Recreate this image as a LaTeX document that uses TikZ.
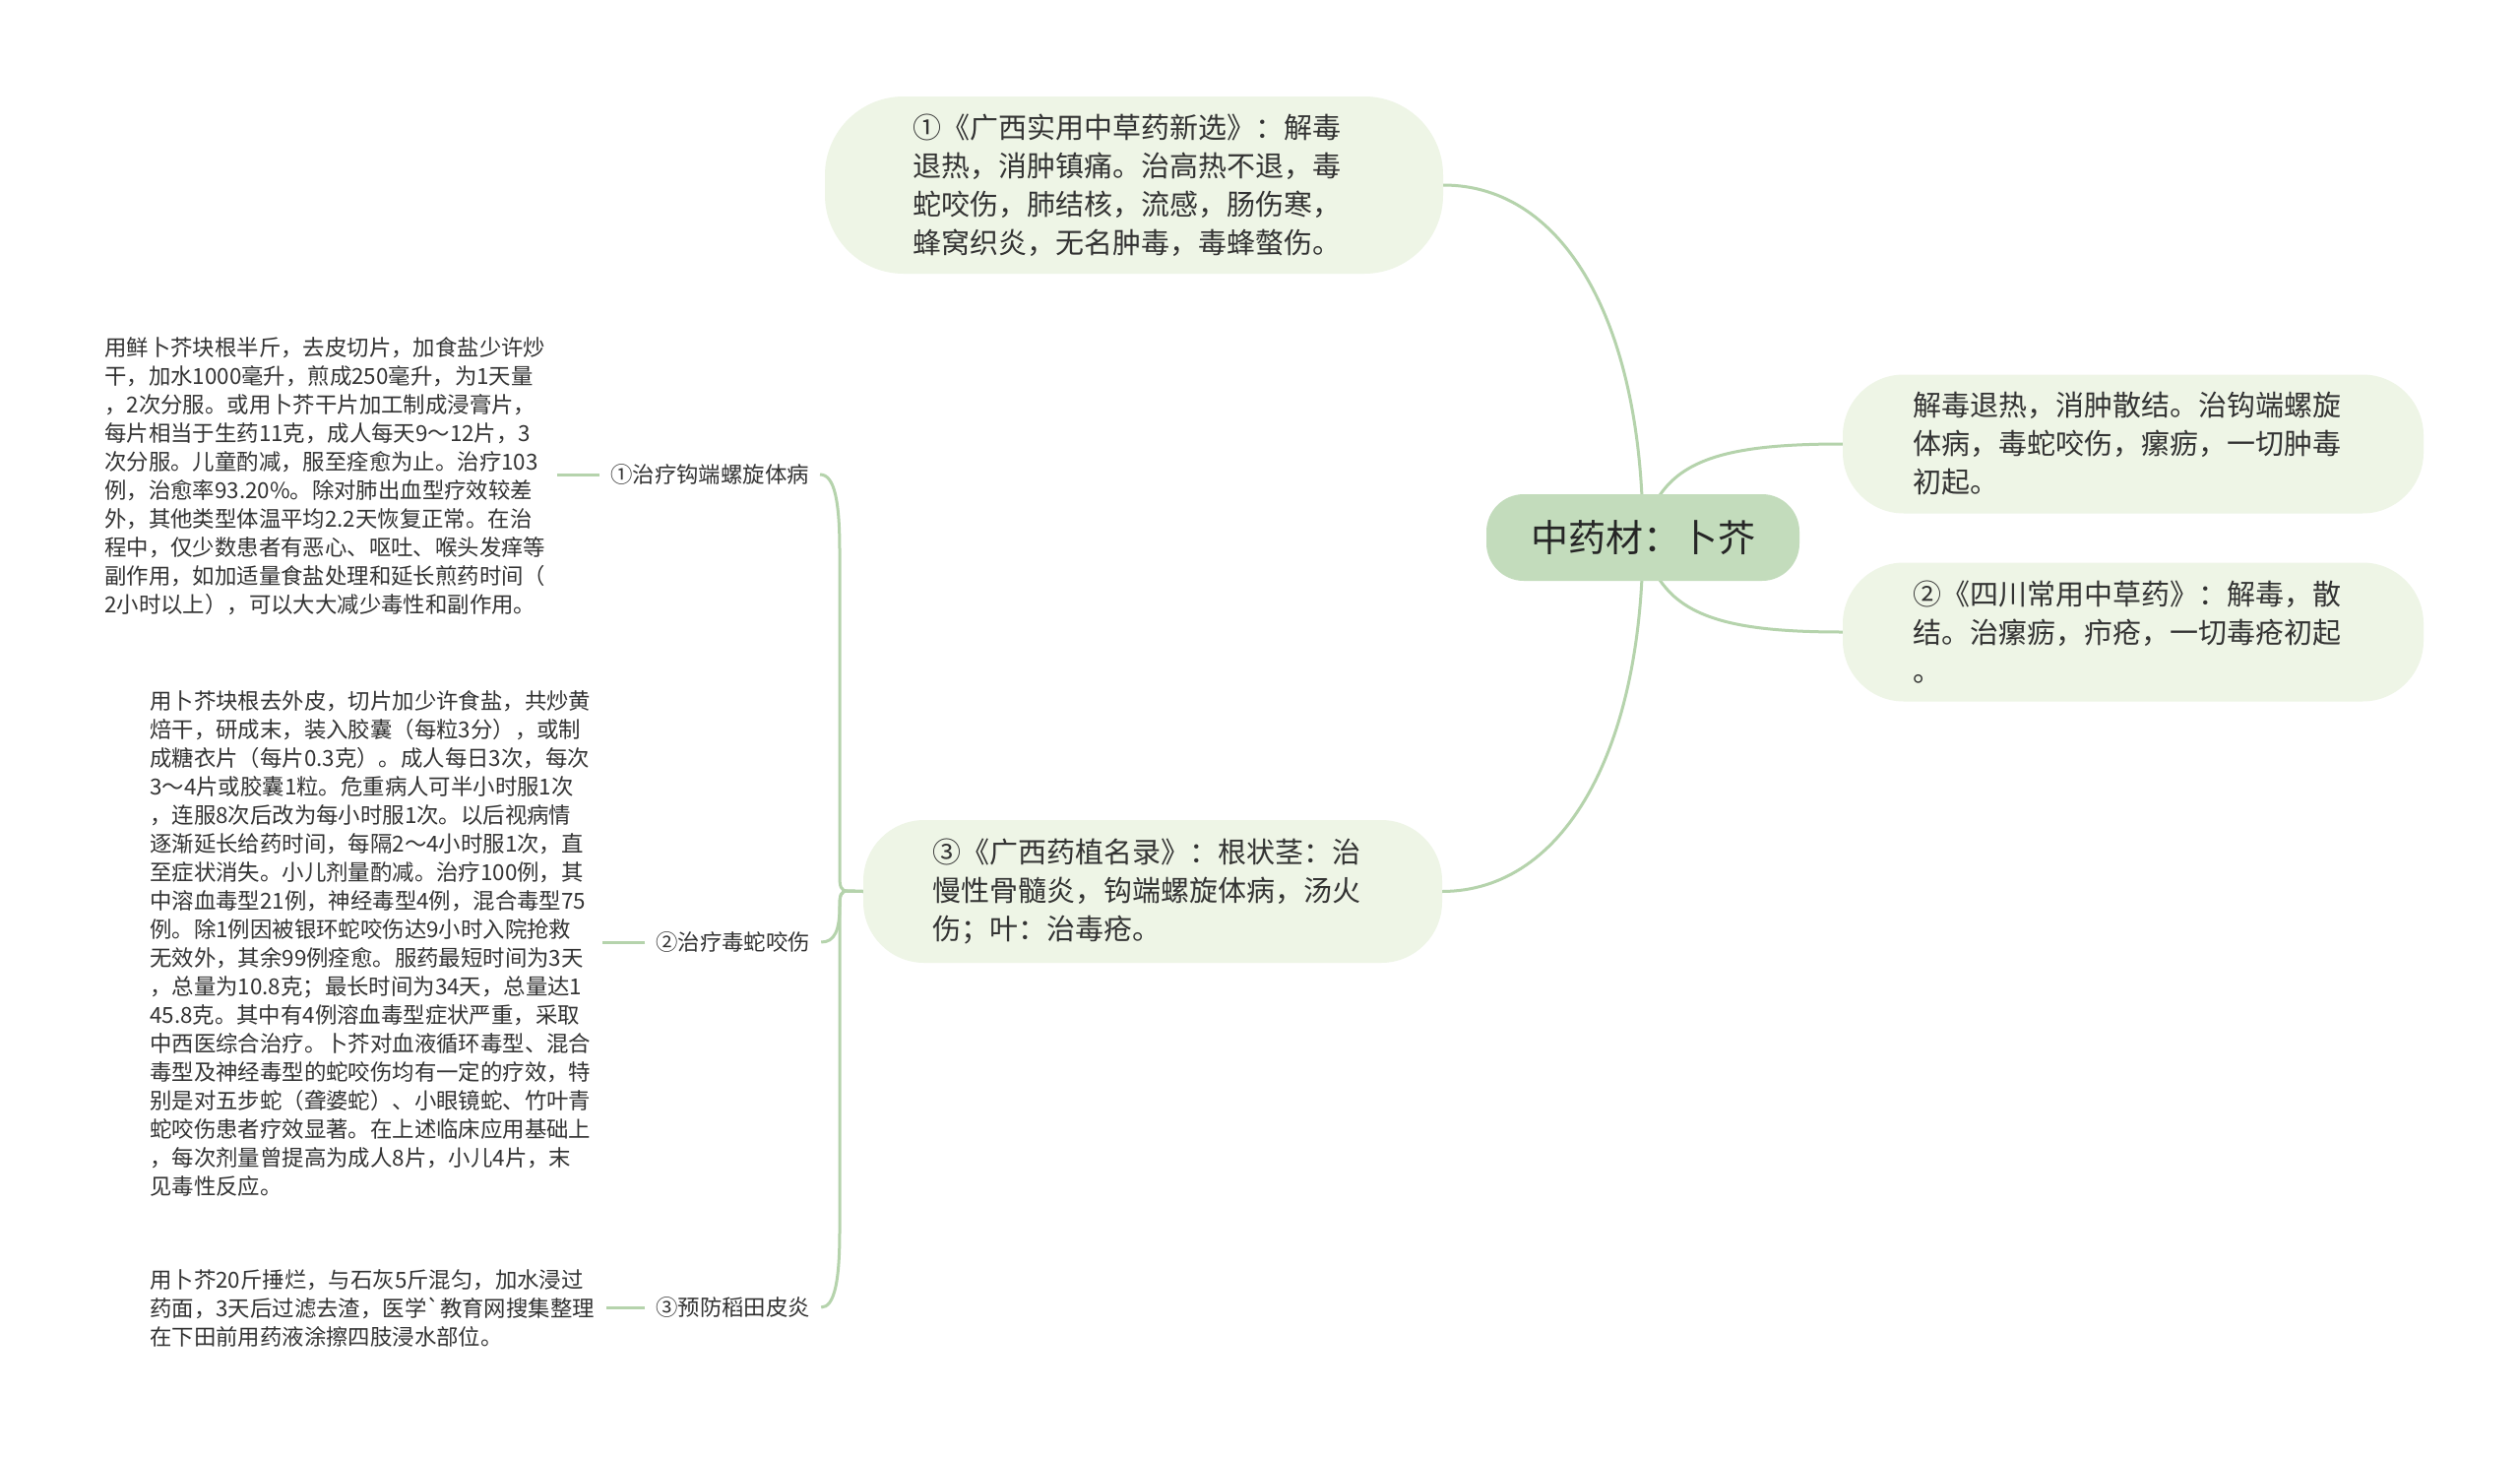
\documentclass[tikz,border=0pt]{standalone}
\usepackage{fontspec}
\newfontfamily\cjk{Noto Sans CJK SC}
\usetikzlibrary{calc}
\definecolor{linec}{HTML}{B5D3AC}
\definecolor{nodefill}{HTML}{EEF5E6}
\definecolor{rootfill}{HTML}{C3DCBC}
\definecolor{txt}{HTML}{333333}
\pgfdeclarelayer{bg}
\pgfsetlayers{bg,main}
\begin{document}
\begin{tikzpicture}[x=1pt,y=-1pt,
  conn/.style={draw=linec,line width=3pt},
  rootnode/.style={fill=rootfill,rounded corners=38pt,minimum width=318pt,minimum height=88pt,inner sep=0pt,font=\cjk\fontsize{38}{46}\selectfont,text=black!85},
  sub/.style={fill=nodefill,rounded corners=62pt,minimum width=590pt,minimum height=141pt,align=left,text width=448pt,inner sep=0pt,font=\cjk\fontsize{29}{39}\selectfont,text=txt},
  blk/.style={align=left,inner sep=0pt,font=\cjk\fontsize{22.4}{29}\selectfont,text=txt},
  lbl/.style={inner xsep=11pt,inner ysep=0pt,font=\cjk\fontsize{22.4}{29}\selectfont,text=txt}]
\useasboundingbox (0,0) rectangle (2560,1480);
\begin{pgfonlayer}{bg}
\fill[white] (0,0) rectangle (2560,1480);
\end{pgfonlayer}

% main nodes
\node[rootnode] (root) at (1669,546) {中药材：卜芥};
\node[sub,minimum width=628pt,minimum height=180pt,text width=450pt,rounded corners=80pt] (t1) at (1152,188)
  {①《广西实用中草药新选》：解毒\\退热，消肿镇痛。治高热不退，毒\\蛇咬伤，肺结核，流感，肠伤寒，\\蜂窝织炎，无名肿毒，毒蜂螫伤。};
\node[sub,minimum width=588pt,minimum height=145pt] (t3) at (1171,905.5)
  {③《广西药植名录》：根状茎：治\\慢性骨髓炎，钩端螺旋体病，汤火\\伤；叶：治毒疮。};
\node[sub] (r1) at (2167,451)
  {解毒退热，消肿散结。治钩端螺旋\\体病，毒蛇咬伤，瘰疬，一切肿毒\\初起。};
\node[sub] (r2) at (2167,642)
  {②《四川常用中草药》：解毒，散\\结。治瘰疬，疖疮，一切毒疮初起\\。};

% labels
\node[lbl,anchor=west] (l1) at (609,482) {①治疗钩端螺旋体病};
\node[lbl,anchor=west] (l2) at (655,957) {②治疗毒蛇咬伤};
\node[lbl,anchor=west] (l3) at (655,1328) {③预防稻田皮炎};

% text blocks
\node[blk,anchor=west] (b1) at (106,483.5) {用鲜卜芥块根半斤，去皮切片，加食盐少许炒\\
干，加水1000毫升，煎成250毫升，为1天量\\
，2次分服。或用卜芥干片加工制成浸膏片，\\
每片相当于生药11克，成人每天9～12片，3\\
次分服。儿童酌减，服至痊愈为止。治疗103\\
例，治愈率93.20\%。除对肺出血型疗效较差\\
外，其他类型体温平均2.2天恢复正常。在治\\
程中，仅少数患者有恶心、呕吐、喉头发痒等\\
副作用，如加适量食盐处理和延长煎药时间（\\
2小时以上），可以大大减少毒性和副作用。};

\node[blk,anchor=west] (b2) at (152,958.5) {用卜芥块根去外皮，切片加少许食盐，共炒黄\\
焙干，研成末，装入胶囊（每粒3分），或制\\
成糖衣片（每片0.3克）。成人每日3次，每次\\
3～4片或胶囊1粒。危重病人可半小时服1次\\
，连服8次后改为每小时服1次。以后视病情\\
逐渐延长给药时间，每隔2～4小时服1次，直\\
至症状消失。小儿剂量酌减。治疗100例，其\\
中溶血毒型21例，神经毒型4例，混合毒型75\\
例。除1例因被银环蛇咬伤达9小时入院抢救\\
无效外，其余99例痊愈。服药最短时间为3天\\
，总量为10.8克；最长时间为34天，总量达1\\
45.8克。其中有4例溶血毒型症状严重，采取\\
中西医综合治疗。卜芥对血液循环毒型、混合\\
毒型及神经毒型的蛇咬伤均有一定的疗效，特\\
别是对五步蛇（聋婆蛇）、小眼镜蛇、竹叶青\\
蛇咬伤患者疗效显著。在上述临床应用基础上\\
，每次剂量曾提高为成人8片，小儿4片，末\\
见毒性反应。};

\node[blk,anchor=west] (b3) at (152,1329.5) {用卜芥20斤捶烂，与石灰5斤混匀，加水浸过\\
药面，3天后过滤去渣，医学`教育网搜集整理\\
在下田前用药液涂擦四肢浸水部位。};

\begin{pgfonlayer}{bg}
% root connectors
\draw[conn] (t1.east) .. controls (1590,188) and (1669,330) .. (root.center);
\draw[conn] (t3.east) .. controls (1590,905) and (1669,760) .. (root.center);
\draw[conn] (root.center) .. controls (1685,470) and (1740,451) .. (r1.west);
\draw[conn] (root.center) .. controls (1685,622) and (1740,642) .. (r2.west);
% left spine
\draw[conn] (t3.west) -- (861,905) .. controls (854,905) and (853,900) .. (853,890) -- (853,560) .. controls (853,510) and (848,482) .. (l1.east);
\draw[conn] (t3.west) -- (861,905) .. controls (854,905) and (853,910) .. (853,920) .. controls (853,945) and (848,957) .. (l2.east);
\draw[conn] (t3.west) -- (861,905) .. controls (854,905) and (853,910) .. (853,920) -- (853,1250) .. controls (853,1300) and (848,1328) .. (l3.east);
% block to label
\draw[conn,shorten >=12pt] (l1.west) -- (l1.west -| b1.east);
\draw[conn,shorten >=12pt] (l2.west) -- (l2.west -| b2.east);
\draw[conn,shorten >=12pt] (l3.west) -- (l3.west -| b3.east);
\end{pgfonlayer}
\end{tikzpicture}
\end{document}
